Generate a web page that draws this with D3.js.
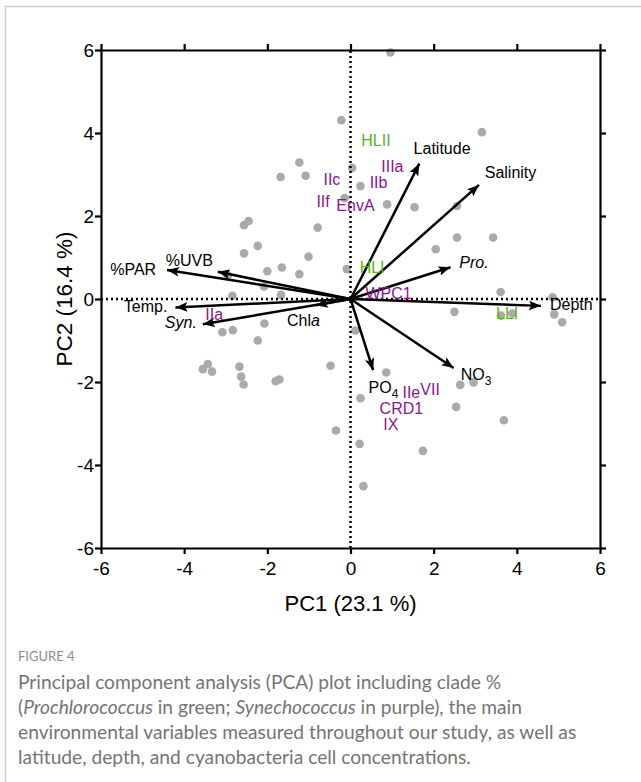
<!DOCTYPE html>
<html>
<head>
<meta charset="utf-8">
<script src="https://cdn.jsdelivr.net/npm/d3@7"></script>
<style>
  body { margin: 0; background: #fff; }
</style>
</head>
<body>
<div id="chart"></div>
<script>
// sample scores on PC1 / PC2 (grey dots)
const sampleScores = [
    [-0.22, 4.31], [-1.23, 3.29], [-1.68, 2.94], [-1.08, 2.97], [0.04, 3.16],
    [-0.14, 2.43], [-2.56, 1.78], [-2.45, 1.88], [-0.79, 1.72], [-2.23, 1.28],
    [-2.56, 1.10], [-1.01, 1.02], [-1.65, 0.76], [-2.00, 0.67], [-1.23, 0.60],
    [-0.09, 0.72], [-2.95, 0.57], [-2.08, 0.30], [-1.67, 0.10], [-2.84, 0.08],
    [-3.08, -0.80], [-2.83, -0.75], [-2.07, -0.59], [-2.23, -1.00], [-3.55, -1.69],
    [-3.43, -1.57], [-3.33, -1.75], [-2.67, -1.63], [-2.63, -1.87], [-2.57, -2.06],
    [-1.80, -1.98], [-1.71, -1.94], [-0.48, -1.61], [-0.35, -3.17], [0.12, -0.76],
    [0.96, 5.94], [3.16, 4.02], [0.24, 2.72], [0.88, 2.28], [1.54, 2.21],
    [2.56, 2.24], [2.56, 1.48], [3.43, 1.48], [2.05, 1.20], [3.61, 0.17],
    [4.86, 0.04], [2.50, -0.31], [3.62, -0.40], [3.89, -0.35], [4.90, -0.37],
    [5.09, -0.56], [0.86, -1.77], [2.64, -2.07], [2.96, -2.01], [0.24, -2.39],
    [2.54, -2.60], [3.69, -2.92], [0.22, -3.49], [1.74, -3.66], [0.31, -4.51]
];

// environmental vectors (arrows)
const envNames = ["%PAR", "%UVB", "Temp.", "Syn.", "Chla", "Latitude", "Salinity", "Pro.", "Depth", "NO3", "PO4"];
const envPC1 = [-4.53, -3.31, -4.33, -3.67, -0.95, 1.71, 3.18, 2.52, 4.70, 2.58, 0.58];
const envPC2 = [0.72, 0.68, -0.21, -0.63, -0.17, 3.37, 2.83, 0.80, -0.17, -1.73, -1.83];

// Prochlorococcus clades (green)
const proClades = ["HLII", "HLI", "LLI"];
const proPC1 = [0.26, 0.22, 3.50];
const proPC2 = [3.69, 0.63, -0.48];

// Synechococcus clades (purple)
const synClades = ["IIc", "IIf", "EnvA", "IIIa", "IIb", "IIa", "WPC1", "IIe", "VII", "CRD1", "IX"];
const synPC1 = [-0.65, -0.82, -0.34, 0.74, 0.46, -3.49, 0.36, 1.25, 1.68, 0.70, 0.79];
const synPC2 = [2.75, 2.22, 2.12, 3.06, 2.67, -0.51, 0.01, -2.39, -2.31, -2.77, -3.15];

const axisTicks = [-6, -4, -2, 0, 2, 4, 6];

const captionLines = [
    [{ t: "Principal component analysis (PCA) plot including clade %" }],
    [{ t: "(" }, { t: "Prochlorococcus", i: true }, { t: " in green; " }, { t: "Synechococcus", i: true }, { t: " in purple), the main" }],
    [{ t: "environmental variables measured throughout our study, as well as" }],
    [{ t: "latitude, depth, and cyanobacteria cell concentrations." }]
];

class PcaBiplot {
    constructor(id) {
        this.id = id;
        this.width = 641;
        this.height = 782;
        this.plot = { left: 101, right: 600, top: 50, bottom: 548 };
        this.font = "'Liberation Sans', Arial, Helvetica, sans-serif";
        this.captionFont = "Lato, 'Open Sans', sans-serif";
        this.green = "rgb(88, 178, 32)";
        this.purple = "rgb(138, 22, 140)";
        // label placement relative to the arrow tip (px)
        this.labelLayout = {
            "%PAR": { anchor: "end", dx: -6, dy: 6 },
            "%UVB": { anchor: "end", dx: 0, dy: -5 },
            "Temp.": { anchor: "end", dx: -3, dy: 4 },
            "Syn.": { anchor: "end", dx: -1, dy: 3 },
            "Chla": { anchor: "start", dx: -24, dy: 20 },
            "Latitude": { anchor: "start", dx: -8, dy: -5 },
            "Salinity": { anchor: "start", dx: 2, dy: -4 },
            "Pro.": { anchor: "start", dx: 4, dy: 2 },
            "Depth": { anchor: "start", dx: 4, dy: 4 },
            "NO3": { anchor: "start", dx: 3, dy: 9 },
            "PO4": { anchor: "start", dx: -6, dy: 18 }
        };
        this.richText = {
            "Syn.": [{ t: "Syn.", i: true }],
            "Pro.": [{ t: "Pro.", i: true }],
            "Chla": [{ t: "Chl" }, { t: "a", i: true }],
            "NO3": [{ t: "NO" }, { t: "3", sub: true }],
            "PO4": [{ t: "PO" }, { t: "4", sub: true }]
        };
    }

    initialize() {
        this.createSVG();
        this.setupScales();
        this.drawFrame();
        this.drawPoints();
        this.drawZeroLines();
        this.drawVectors();
        this.drawCladeLabels();
        this.drawAxes();
        this.drawCaption();
    }

    createSVG() {
        this.svg = d3.select(this.id)
            .append("svg")
            .attr("width", this.width)
            .attr("height", this.height)
            .style("display", "block");

        const defs = this.svg.append("defs");
        defs.append("marker")
            .attr("id", "arrowhead")
            .attr("viewBox", "0 -5 12 10")
            .attr("refX", 12)
            .attr("refY", 0)
            .attr("markerUnits", "userSpaceOnUse")
            .attr("markerWidth", 12)
            .attr("markerHeight", 10)
            .attr("orient", "auto")
            .append("path")
            .attr("d", "M0,-4.8L12,0L0,4.8L2.5,0Z")
            .style("fill", "#000");
    }

    setupScales() {
        this.x = d3.scaleLinear().domain([-6, 6]).range([this.plot.left, this.plot.right]);
        this.y = d3.scaleLinear().domain([-6, 6]).range([this.plot.bottom, this.plot.top]);
    }

    drawFrame() {
        this.svg.append("path")
            .attr("d", `M5.5,${this.height}V6.5H${this.width}`)
            .style("fill", "none")
            .style("stroke", "#cfcfcf")
            .style("stroke-width", 1.5);
    }

    drawPoints() {
        this.svg.append("g")
            .attr("class", "points")
            .selectAll("circle")
            .data(sampleScores)
            .enter().append("circle")
            .attr("cx", d => this.x(d[0]))
            .attr("cy", d => this.y(d[1]))
            .attr("r", 4.3)
            .style("fill", "rgb(170, 170, 170)");
    }

    drawZeroLines() {
        const g = this.svg.append("g").attr("class", "zero-lines");
        g.append("line")
            .attr("x1", this.x(-6)).attr("x2", this.x(6))
            .attr("y1", this.y(0)).attr("y2", this.y(0));
        g.append("line")
            .attr("x1", this.x(0)).attr("x2", this.x(0))
            .attr("y1", this.y(-6)).attr("y2", this.y(6));
        g.selectAll("line")
            .style("stroke", "#000")
            .style("stroke-width", 2.5)
            .style("stroke-dasharray", "2,3");
    }

    appendRich(textSel, parts) {
        parts.forEach(p => {
            const ts = textSel.append("tspan").text(p.t);
            if (p.i) ts.style("font-style", "italic");
            if (p.sub) ts.attr("dy", 5).style("font-size", "12px");
        });
    }

    drawVectors() {
        const vectors = envNames.map((name, i) => ({ name, pc1: envPC1[i], pc2: envPC2[i] }));
        const x0 = this.x(0), y0 = this.y(0);
        const g = this.svg.append("g").attr("class", "vectors");

        // stop the shaft a little short so it hides under the arrowhead
        const shaftEnd = d => {
            const tx = this.x(d.pc1), ty = this.y(d.pc2);
            const len = Math.hypot(tx - x0, ty - y0);
            return [tx - (tx - x0) / len * 5, ty - (ty - y0) / len * 5];
        };

        g.selectAll("line")
            .data(vectors)
            .enter().append("line")
            .attr("x1", x0)
            .attr("y1", y0)
            .attr("x2", d => shaftEnd(d)[0])
            .attr("y2", d => shaftEnd(d)[1])
            .attr("marker-end", "url(#arrowhead)")
            .style("stroke", "#000")
            .style("stroke-width", 2.5);

        vectors.forEach(d => {
            const lay = this.labelLayout[d.name];
            const t = g.append("text")
                .attr("x", this.x(d.pc1) + lay.dx)
                .attr("y", this.y(d.pc2) + lay.dy)
                .attr("text-anchor", lay.anchor)
                .style("font-family", this.font)
                .style("font-size", "16px")
                .style("fill", "#000");
            this.appendRich(t, this.richText[d.name] || [{ t: d.name }]);
        });
    }

    drawCladeLabels() {
        const clades = proClades.map((name, i) => ({ name, pc1: proPC1[i], pc2: proPC2[i], color: this.green }))
            .concat(synClades.map((name, i) => ({ name, pc1: synPC1[i], pc2: synPC2[i], color: this.purple })));

        this.svg.append("g")
            .attr("class", "clades")
            .selectAll("text")
            .data(clades)
            .enter().append("text")
            .attr("x", d => this.x(d.pc1))
            .attr("y", d => this.y(d.pc2))
            .style("font-family", this.font)
            .style("font-size", "16px")
            .style("fill", d => d.color)
            .text(d => d.name);
    }

    styleAxis(g) {
        g.select(".domain").style("stroke-width", 2.2);
        g.selectAll(".tick line").style("stroke-width", 2.2);
        g.selectAll(".tick text")
            .style("font-family", this.font)
            .style("font-size", "19px")
            .style("fill", "#000");
    }

    drawAxes() {
        const fmt = d => String(d);
        const p = this.plot;

        this.svg.append("g")
            .attr("transform", `translate(0,${p.bottom})`)
            .call(d3.axisBottom(this.x).tickValues(axisTicks).tickFormat(fmt).tickSize(6).tickSizeOuter(0).tickPadding(8))
            .call(g => this.styleAxis(g));

        this.svg.append("g")
            .attr("transform", `translate(${p.left},0)`)
            .call(d3.axisLeft(this.y).tickValues(axisTicks).tickFormat(fmt).tickSize(6).tickSizeOuter(0).tickPadding(1))
            .call(g => this.styleAxis(g));

        this.svg.append("g")
            .attr("transform", `translate(0,${p.top})`)
            .call(d3.axisTop(this.x).tickValues(axisTicks).tickFormat("").tickSize(6).tickSizeOuter(0))
            .call(g => this.styleAxis(g));

        this.svg.append("g")
            .attr("transform", `translate(${p.right},0)`)
            .call(d3.axisRight(this.y).tickValues(axisTicks).tickFormat("").tickSize(6).tickSizeOuter(0))
            .call(g => this.styleAxis(g));

        this.svg.append("text")
            .attr("x", (p.left + p.right) / 2)
            .attr("y", 611)
            .attr("text-anchor", "middle")
            .style("font-family", this.font)
            .style("font-size", "22px")
            .style("fill", "#000")
            .text("PC1 (23.1 %)");

        this.svg.append("text")
            .attr("transform", `translate(72,${(p.top + p.bottom) / 2}) rotate(-90)`)
            .attr("text-anchor", "middle")
            .style("font-family", this.font)
            .style("font-size", "22.5px")
            .style("fill", "#000")
            .text("PC2 (16.4 %)");
    }

    drawCaption() {
        const g = this.svg.append("g").attr("class", "caption");
        g.append("text")
            .attr("x", 18)
            .attr("y", 661)
            .style("font-family", this.captionFont)
            .style("font-size", "13px")
            .style("fill", "#8a8a8a")
            .text("FIGURE 4");

        captionLines.forEach((parts, i) => {
            const t = g.append("text")
                .attr("x", 18)
                .attr("y", 689 + i * 25)
                .style("font-family", this.captionFont)
                .style("font-size", "19.2px")
                .style("fill", "#747474");
            this.appendRich(t, parts);
        });
    }
}

const chart = new PcaBiplot("#chart");
chart.initialize();
</script>
</body>
</html>
